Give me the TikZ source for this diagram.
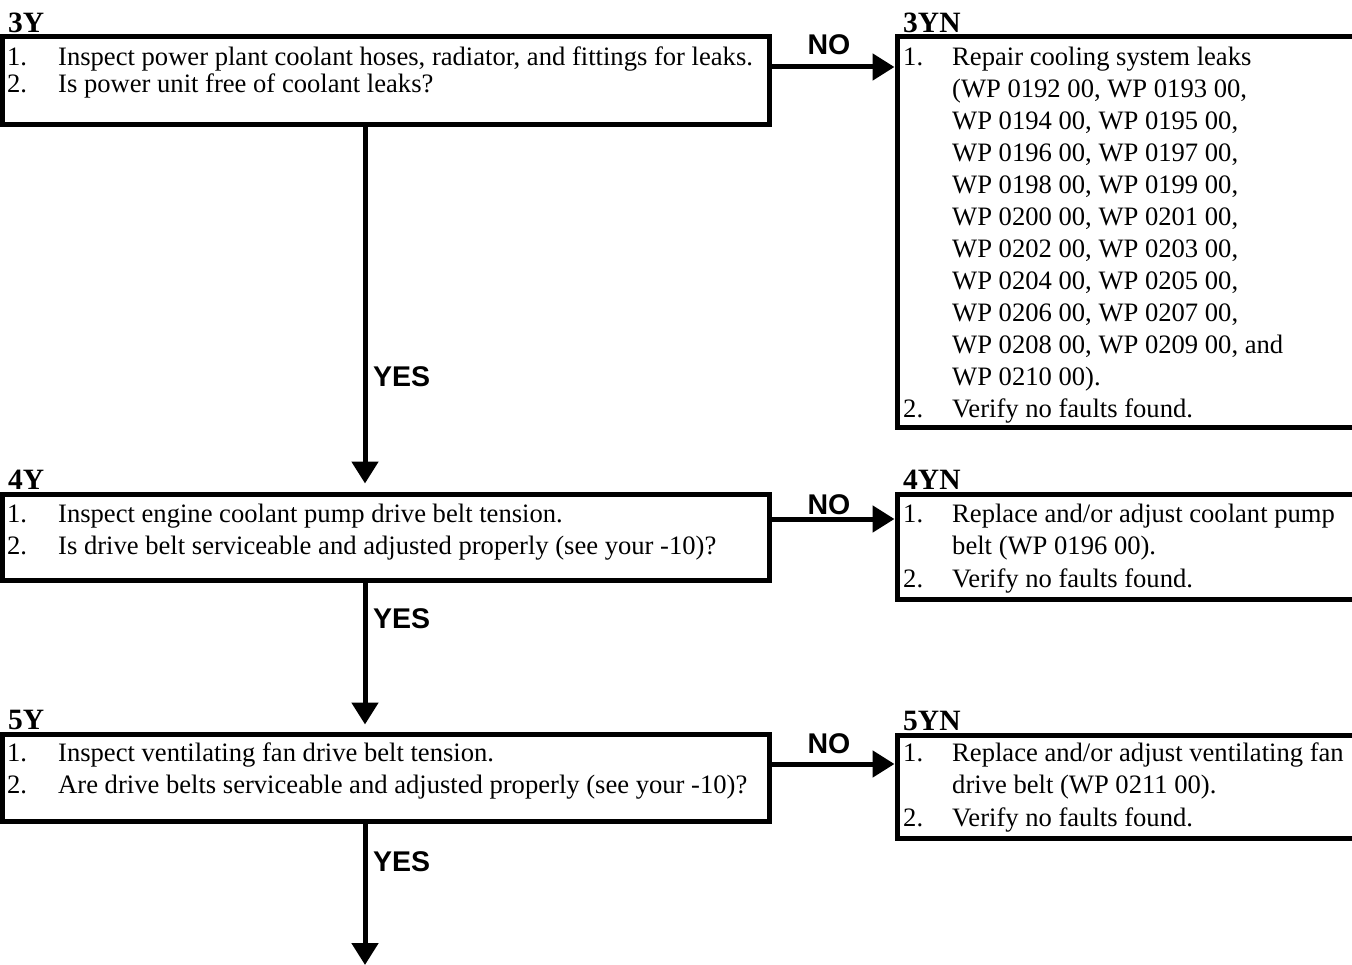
\documentclass[tikz,border=0pt]{standalone}
\usepackage{fontspec}
\setmainfont{Liberation Serif}
\newfontfamily\lsans{Liberation Sans}
\usetikzlibrary{arrows.meta}
\begin{document}
\begin{tikzpicture}[x=1pt,y=-1pt,
  box/.style={draw, rectangle, line width=5pt, inner sep=0pt, outer sep=2.5pt, anchor=north west},
  txt/.style={inner sep=0pt, anchor=base west, font=\fontsize{26.6}{#1}\selectfont},
  ttl/.style={inner sep=0pt, anchor=base west, font=\bfseries\fontsize{29.5}{30}\selectfont},
  lab/.style={inner sep=0pt, font=\lsans\bfseries\fontsize{28.5}{30}\selectfont},
  arr/.style={line width=5pt, -{Triangle[length=22pt,width=26pt]}}]
\useasboundingbox (0,0) rectangle (1352,965);
\clip (0,0) rectangle (1352,965);
% boxes
\node[box, minimum width=767pt, minimum height=88pt] (b3y) at (0,34.5) {};
\node[box, minimum width=465pt, minimum height=390pt] (b3yn) at (894.5,34.5) {};
\node[box, minimum width=767pt, minimum height=86pt] (b4y) at (0,491.5) {};
\node[box, minimum width=465pt, minimum height=105pt] (b4yn) at (894.5,491.5) {};
\node[box, minimum width=767pt, minimum height=87pt] (b5y) at (0,731.5) {};
\node[box, minimum width=465pt, minimum height=103pt] (b5yn) at (894.5,732.5) {};
% titles
\node[ttl] (l3y) at (8,33) {3Y};
\node[ttl] (l3yn) at (903,33) {3YN};
\node[ttl] (l4y) at (8,489.5) {4Y};
\node[ttl] (l4yn) at (903,489.5) {4YN};
\node[ttl] (l5y) at (8,729.5) {5Y};
\node[ttl] (l5yn) at (903,730.5) {5YN};
% texts
\node[txt=27] (t3y) at (7,66) {\begin{tabular}[t]{@{}p{51pt}@{}l@{}}
1. & Inspect power plant coolant hoses, radiator, and fittings for leaks.\\
2. & Is power unit free of coolant leaks?\end{tabular}};
\node[txt=32] (t3yn) at (903,65.5) {\begin{tabular}[t]{@{}p{49pt}@{}l@{}}
1. & Repair cooling system leaks\\
 & (WP 0192 00, WP 0193 00,\\
 & WP 0194 00, WP 0195 00,\\
 & WP 0196 00, WP 0197 00,\\
 & WP 0198 00, WP 0199 00,\\
 & WP 0200 00, WP 0201 00,\\
 & WP 0202 00, WP 0203 00,\\
 & WP 0204 00, WP 0205 00,\\
 & WP 0206 00, WP 0207 00,\\
 & WP 0208 00, WP 0209 00, and\\
 & WP 0210 00).\\
2. & Verify no faults found.\end{tabular}};
\node[txt=32] (t4y) at (7,522) {\begin{tabular}[t]{@{}p{51pt}@{}l@{}}
1. & Inspect engine coolant pump drive belt tension.\\
2. & Is drive belt serviceable and adjusted properly (see your -10)?\end{tabular}};
\node[txt=32.5] (t4yn) at (903,522) {\begin{tabular}[t]{@{}p{49pt}@{}l@{}}
1. & Replace and/or adjust coolant pump\\
 & belt (WP 0196 00).\\
2. & Verify no faults found.\end{tabular}};
\node[txt=32.5] (t5y) at (7,761) {\begin{tabular}[t]{@{}p{51pt}@{}l@{}}
1. & Inspect ventilating fan drive belt tension.\\
2. & Are drive belts serviceable and adjusted properly (see your -10)?\end{tabular}};
\node[txt=32.5] (t5yn) at (903,761) {\begin{tabular}[t]{@{}p{49pt}@{}l@{}}
1. & Replace and/or adjust ventilating fan\\
 & drive belt (WP 0211 00).\\
2. & Verify no faults found.\end{tabular}};
% connector coordinates
\coordinate (ax) at (365,0);
\coordinate (n3) at (0,67);
\coordinate (n4) at (0,519);
\coordinate (n5) at (0,764);
\coordinate (fin) at (365,965);
% NO arrows
\draw[arr] (b3y.east |- n3) -- (b3yn.west |- n3);
\draw[arr] (b4y.east |- n4) -- (b4yn.west |- n4);
\draw[arr] (b5y.east |- n5) -- (b5yn.west |- n5);
% YES arrows
\draw[arr, shorten >=8pt] (b3y.south -| ax) -- (b4y.north -| ax);
\draw[arr, shorten >=7pt] (b4y.south -| ax) -- (b5y.north -| ax);
\draw[arr] (b5y.south -| ax) -- (fin);
% labels
\node[lab, anchor=base] (no3) at (829,55) {NO};
\node[lab, anchor=base] (no4) at (829,514) {NO};
\node[lab, anchor=base] (no5) at (829,753) {NO};
\node[lab, anchor=base west] (yes3) at (373,387) {YES};
\node[lab, anchor=base west] (yes4) at (373,628) {YES};
\node[lab, anchor=base west] (yes5) at (373,871) {YES};
\end{tikzpicture}
\end{document}
